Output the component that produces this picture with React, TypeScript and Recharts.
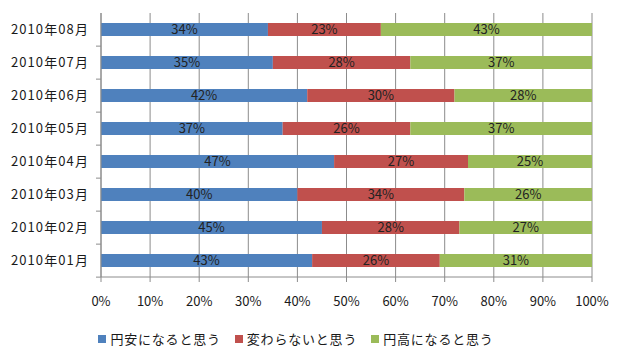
import { BarChart, Bar, XAxis, YAxis, CartesianGrid, Legend, LabelList } from "recharts";

const months = [
  "2010年08月",
  "2010年07月",
  "2010年06月",
  "2010年05月",
  "2010年04月",
  "2010年03月",
  "2010年02月",
  "2010年01月",
];
const weakYen = [34, 35, 42, 37, 47, 40, 45, 43];
const noChange = [23, 28, 30, 26, 27, 34, 28, 26];
const strongYen = [43, 37, 28, 37, 25, 26, 27, 31];
const xTicks = [0, 0.1, 0.2, 0.3, 0.4, 0.5, 0.6, 0.7, 0.8, 0.9, 1];

const series = [
  { key: "weak", name: "円安になると思う", color: "#4f81bd" },
  { key: "same", name: "変わらないと思う", color: "#c0504d" },
  { key: "strong", name: "円高になると思う", color: "#9bbb59" },
];

const data = months.map((m, i) => ({
  month: m,
  weak: weakYen[i],
  same: noChange[i],
  strong: strongYen[i],
}));

const FONT = "'Noto Sans CJK JP', 'Noto Sans', sans-serif";
const AXIS = "#8c8c8c";
const TEXT = "#1a1a1a";
const TOP = 13;
const PLOT_H = 266;
const BAND = PLOT_H / months.length;

// category tick: label + small tick mark on the band boundary (Excel style)
function MonthTick(props: any) {
  const { x, y, payload } = props;
  const by = y + BAND / 2;
  return (
    <g>
      <line x1={x + 3} x2={x + 8} y1={by} y2={by} stroke={AXIS} />
      <text
        x={x - 4}
        y={y}
        dy={4}
        textAnchor="end"
        fontSize={13}
        letterSpacing={1.1}
        fill={TEXT}
        fontFamily={FONT}
      >
        {payload.value}
      </text>
    </g>
  );
}

function LegendBox() {
  return (
    <div style={{ display: "flex", justifyContent: "center", gap: 14, fontSize: 13, color: TEXT, letterSpacing: 0.8 }}>
      {series.map((s) => (
        <span key={s.key} style={{ display: "inline-flex", alignItems: "center", gap: 4 }}>
          <span style={{ width: 8, height: 8, background: s.color, display: "inline-block" }} />
          {s.name}
        </span>
      ))}
    </div>
  );
}

const pct = (v: any) => `${v}%`;

export default function App() {
  return (
    <div style={{ position: "absolute", left: 0, top: 0, width: 623, height: 359, background: "#fff" }}>
      <BarChart
        width={623}
        height={359}
        data={data}
        layout="vertical"
        stackOffset="expand"
        margin={{ top: TOP, right: 31, bottom: 11, left: 0 }}
        barSize={13}
        style={{ fontFamily: FONT }}
      >
        <CartesianGrid horizontal={false} stroke={AXIS} />
        <XAxis
          type="number"
          domain={[0, 1]}
          ticks={xTicks}
          tickFormatter={(v) => `${Math.round(v * 100)}%`}
          tick={{ fill: TEXT, fontSize: 13 }}
          tickLine={{ stroke: AXIS }}
          tickSize={5}
          tickMargin={15}
          axisLine={{ stroke: AXIS }}
          height={38}
        />
        <YAxis
          type="category"
          dataKey="month"
          width={101}
          tick={<MonthTick />}
          tickLine={false}
          axisLine={{ stroke: AXIS }}
        />
        <Legend verticalAlign="bottom" content={<LegendBox />} wrapperStyle={{ paddingTop: 14 }} />
        {series.map((s) => (
          <Bar key={s.key} dataKey={s.key} name={s.name} stackId="a" fill={s.color} isAnimationActive={false}>
            <LabelList dataKey={s.key} position="center" formatter={pct} fill="#222" fontSize={13} />
          </Bar>
        ))}
      </BarChart>
    </div>
  );
}
